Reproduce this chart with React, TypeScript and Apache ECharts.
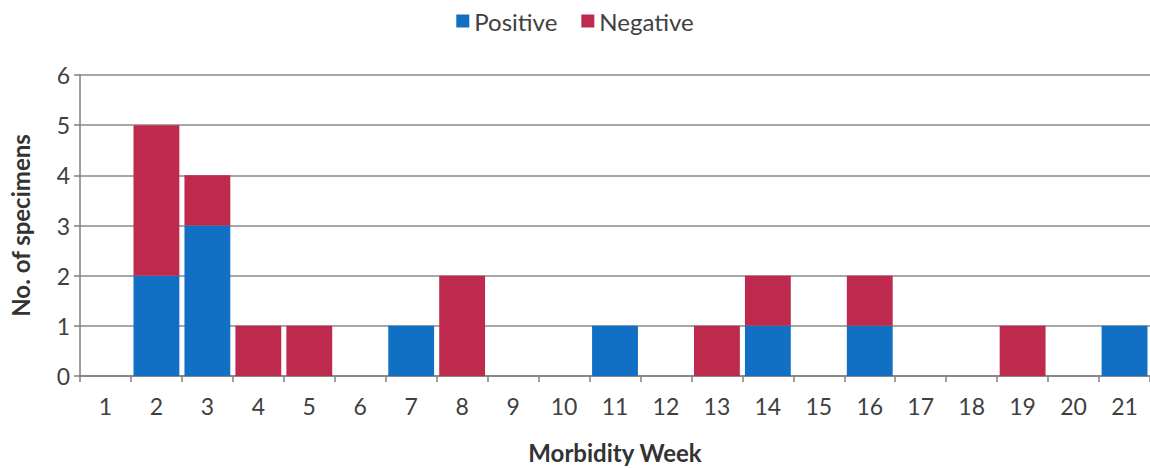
import React, { useEffect, useRef } from "react";
import * as echarts from "echarts";

const weeks = ["1","2","3","4","5","6","7","8","9","10","11","12","13","14","15","16","17","18","19","20","21"];
const positive = [0,2,3,0,0,0,1,0,0,0,1,0,0,1,0,1,0,0,0,0,1];
const negative = [0,3,1,1,1,0,0,2,0,0,0,0,1,1,0,1,0,0,1,0,0];
const yTicks = [0, 1, 2, 3, 4, 5, 6];

const FONT = "Lato";
const BLUE = "#1170c4";
const RED = "#bd2a4d";

export default function App() {
  const ref = useRef<HTMLDivElement>(null);
  useEffect(() => {
    if (!ref.current) return;
    const chart = echarts.init(ref.current, null, { renderer: "svg" });
    chart.setOption({
      animation: false,
      textStyle: { fontFamily: FONT },
      legend: {
        top: 4,
        left: "center",
        itemWidth: 13,
        itemHeight: 13,
        itemGap: 24,
        icon: "rect",
        textStyle: { fontFamily: FONT, fontSize: 24, color: "#404040" },
        data: ["Positive", "Negative"],
      },
      grid: { left: 80, right: 0, top: 75, bottom: 92, containLabel: false },
      xAxis: {
        type: "category",
        data: weeks,
        name: "Morbidity Week",
        nameLocation: "middle",
        nameGap: 64,
        nameTextStyle: { fontFamily: FONT, fontSize: 24, fontWeight: "bold", color: "#333" },
        axisLine: { lineStyle: { color: "#7f7f7f", width: 1.5 } },
        axisTick: { show: true, length: 6, lineStyle: { color: "#7f7f7f", width: 1.5 } },
        axisLabel: { fontFamily: FONT, fontSize: 23, color: "#404040", margin: 18 },
      },
      yAxis: {
        type: "value",
        min: yTicks[0],
        max: yTicks[yTicks.length - 1],
        interval: 1,
        name: "No. of specimens",
        nameLocation: "middle",
        nameGap: 48,
        nameRotate: 90,
        nameTextStyle: { fontFamily: FONT, fontSize: 24, fontWeight: "bold", color: "#333" },
        axisLine: { show: true, lineStyle: { color: "#7f7f7f", width: 1.5 } },
        axisTick: { show: true, length: 6, lineStyle: { color: "#7f7f7f", width: 1.5 } },
        axisLabel: { fontFamily: FONT, fontSize: 23, color: "#404040", margin: 10 },
        splitLine: { show: true, lineStyle: { color: "#8a8a8a", width: 1.5 } },
      },
      series: [
        {
          name: "Positive",
          type: "bar",
          stack: "total",
          data: positive,
          barCategoryGap: "10%",
          itemStyle: { color: BLUE },
        },
        {
          name: "Negative",
          type: "bar",
          stack: "total",
          data: negative,
          barCategoryGap: "10%",
          itemStyle: { color: RED },
        },
      ],
    });
    return () => chart.dispose();
  }, []);
  return <div ref={ref} style={{ width: 1150, height: 469, position: "absolute", left: 0, top: 0 }} />;
}
